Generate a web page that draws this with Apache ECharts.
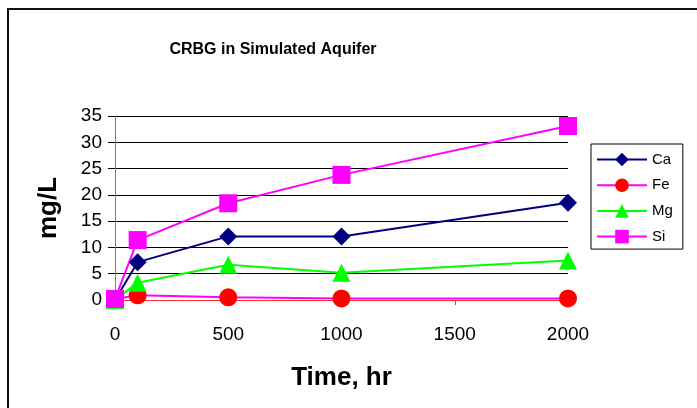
<!DOCTYPE html>
<html>
<head>
<meta charset="utf-8">
<script src="https://cdn.jsdelivr.net/npm/echarts@6/dist/echarts.min.js"></script>
<style>
html,body{margin:0;padding:0;background:#fff;}
#chart{width:697px;height:408px;}
</style>
</head>
<body>
<div id="chart"></div>
<script>
var times = [0, 100, 500, 1000, 2000];
var caValues = [0, 7.2, 12.1, 12.1, 18.5];
var feValues = [0.2, 0.9, 0.5, 0.3, 0.3];
var mgValues = [0, 3.3, 6.7, 5.2, 7.5];
var siValues = [0.2, 11.4, 18.4, 23.8, 33.1];
var xTicks = [0, 500, 1000, 1500, 2000];
var yTicks = [0, 5, 10, 15, 20, 25, 30, 35];

function pairs(vals) { return times.map(function (t, i) { return [t, vals[i]]; }); }

var FONT = '"Liberation Sans", Arial, sans-serif';
var chart = echarts.init(document.getElementById('chart'), null, {renderer: 'canvas'});

function mk(name, vals, symbol, lineColor, markColor, size) {
  return {
    name: name, type: 'line', data: pairs(vals),
    symbol: symbol, symbolSize: size, showAllSymbol: true,
    lineStyle: {color: lineColor, width: 2},
    itemStyle: {color: markColor, borderWidth: 0},
    emphasis: {disabled: true}, animation: false
  };
}

chart.setOption({
  animation: false,
  backgroundColor: '#fff',
  title: {
    text: 'CRBG in Simulated Aquifer', left: 268, top: 37, textAlign: 'center',
    textStyle: {fontFamily: FONT, fontSize: 16, fontWeight: 'bold', color: '#000'}
  },
  graphic: [{
    type: 'rect', shape: {x: 8, y: 9, width: 800, height: 500},
    style: {fill: 'none', stroke: '#111', lineWidth: 2}, silent: true
  }],
  legend: {
    left: 591, top: 144, orient: 'vertical',
    itemWidth: 50, itemHeight: 17, itemGap: 10.7,
    padding: [8, 10, 5, 5],
    borderColor: '#000', borderWidth: 1, backgroundColor: '#fff',
    textStyle: {fontFamily: FONT, fontSize: 15, color: '#000'},
    data: ['Ca', 'Fe', 'Mg', 'Si']
  },
  grid: {left: 115, right: 129, top: 116, bottom: 108, containLabel: false},
  xAxis: {
    type: 'value', min: xTicks[0], max: xTicks[xTicks.length - 1], interval: 500,
    name: 'Time, hr', nameLocation: 'middle', nameGap: 65,
    nameTextStyle: {fontFamily: FONT, fontSize: 26, fontWeight: 'bold', color: '#000'},
    axisLine: {lineStyle: {color: '#ff3030', width: 1}},
    axisTick: {show: true, inside: false, length: 5, lineStyle: {color: '#ff3030'}},
    axisLabel: {fontFamily: FONT, fontSize: 19, color: '#000', margin: 25,
      formatter: function (v) { return String(v); }},
    splitLine: {show: false}
  },
  yAxis: {
    type: 'value', min: yTicks[0], max: yTicks[yTicks.length - 1], interval: 5,
    name: 'mg/L', nameLocation: 'middle', nameGap: 53, nameRotate: 90,
    nameTextStyle: {fontFamily: FONT, fontSize: 26, fontWeight: 'bold', color: '#000'},
    axisLine: {show: true, lineStyle: {color: '#808080', width: 1}},
    axisTick: {show: true, inside: false, length: 7, lineStyle: {color: '#000'}},
    axisLabel: {fontFamily: FONT, fontSize: 19, color: '#000', margin: 13,
      formatter: function (v) { return String(v); }},
    splitLine: {show: true, lineStyle: {color: '#000', width: 1}}
  },
  series: [
    mk('Ca', caValues, 'diamond', '#000080', '#000080', 18),
    mk('Fe', feValues, 'circle', '#ff00ff', '#ff0000', 18),
    mk('Mg', mgValues, 'triangle', '#00ff00', '#00ff00', 18),
    mk('Si', siValues, 'rect', '#ff00ff', '#ff00ff', 18)
  ]
});
</script>
</body>
</html>
